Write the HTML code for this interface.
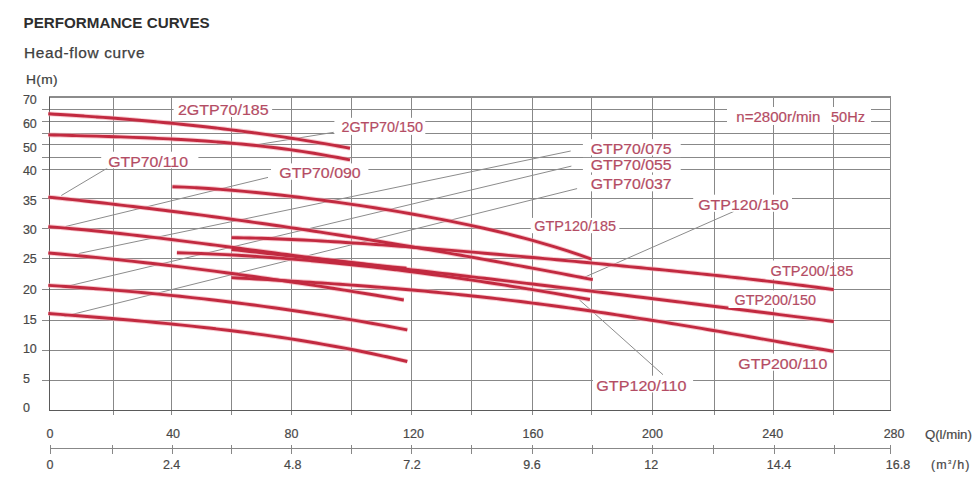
<!DOCTYPE html>
<html><head><meta charset="utf-8"><title>Performance curves</title>
<style>
html,body{margin:0;padding:0;background:#fff;}
body{width:980px;height:500px;overflow:hidden;position:relative;font-family:"Liberation Sans",sans-serif;}
.t1{position:absolute;left:23.5px;top:13.5px;font-size:15.2px;line-height:17px;font-weight:bold;color:#2e2e2e;white-space:nowrap;}
.t2{position:absolute;left:24.3px;top:45px;font-size:14px;line-height:16px;color:#404040;letter-spacing:0.6px;white-space:nowrap;transform:scaleX(1.1);transform-origin:0 0;-webkit-text-stroke:0.25px #404040;}
.t3{position:absolute;left:26.3px;top:72.8px;font-size:12.5px;line-height:14px;color:#404040;letter-spacing:0.3px;white-space:nowrap;transform:scaleX(1.1);transform-origin:0 0;-webkit-text-stroke:0.2px #404040;}
svg{position:absolute;left:0;top:0;}
svg text{font-family:"Liberation Sans",sans-serif;}
</style></head>
<body>
<div class="t1">PERFORMANCE CURVES</div>
<div class="t2">Head-flow curve</div>
<div class="t3">H(m)</div>
<svg width="980" height="500" viewBox="0 0 980 500">
<g shape-rendering="crispEdges">
<line x1="42" y1="109.6" x2="890.5" y2="109.6" stroke="#888888" stroke-width="1"/>
<line x1="42" y1="121.6" x2="890.5" y2="121.6" stroke="#888888" stroke-width="1"/>
<line x1="42" y1="133.4" x2="890.5" y2="133.4" stroke="#888888" stroke-width="1"/>
<line x1="42" y1="144.9" x2="890.5" y2="144.9" stroke="#888888" stroke-width="1"/>
<line x1="42" y1="157.2" x2="890.5" y2="157.2" stroke="#888888" stroke-width="1"/>
<line x1="42" y1="169.1" x2="890.5" y2="169.1" stroke="#888888" stroke-width="1"/>
<line x1="42" y1="198.3" x2="890.5" y2="198.3" stroke="#888888" stroke-width="1"/>
<line x1="42" y1="228.1" x2="890.5" y2="228.1" stroke="#888888" stroke-width="1"/>
<line x1="42" y1="258.8" x2="890.5" y2="258.8" stroke="#888888" stroke-width="1"/>
<line x1="42" y1="289.1" x2="890.5" y2="289.1" stroke="#888888" stroke-width="1"/>
<line x1="42" y1="320.1" x2="890.5" y2="320.1" stroke="#888888" stroke-width="1"/>
<line x1="42" y1="350.3" x2="890.5" y2="350.3" stroke="#888888" stroke-width="1"/>
<line x1="42" y1="380.1" x2="890.5" y2="380.1" stroke="#888888" stroke-width="1"/>
<line x1="49.4" y1="410.1" x2="890.5" y2="410.1" stroke="#888888" stroke-width="1"/>
<line x1="113.2" y1="96.8" x2="113.2" y2="415.1" stroke="#888888" stroke-width="1"/>
<line x1="171.6" y1="96.8" x2="171.6" y2="415.1" stroke="#888888" stroke-width="1"/>
<line x1="231" y1="96.8" x2="231" y2="415.1" stroke="#888888" stroke-width="1"/>
<line x1="291.9" y1="96.8" x2="291.9" y2="415.1" stroke="#888888" stroke-width="1"/>
<line x1="351.4" y1="96.8" x2="351.4" y2="415.1" stroke="#888888" stroke-width="1"/>
<line x1="411.1" y1="96.8" x2="411.1" y2="415.1" stroke="#888888" stroke-width="1"/>
<line x1="471" y1="96.8" x2="471" y2="415.1" stroke="#888888" stroke-width="1"/>
<line x1="532.8" y1="96.8" x2="532.8" y2="415.1" stroke="#888888" stroke-width="1"/>
<line x1="591.8" y1="96.8" x2="591.8" y2="415.1" stroke="#888888" stroke-width="1"/>
<line x1="652.2" y1="96.8" x2="652.2" y2="415.1" stroke="#888888" stroke-width="1"/>
<line x1="714.8" y1="96.8" x2="714.8" y2="415.1" stroke="#888888" stroke-width="1"/>
<line x1="773.2" y1="96.8" x2="773.2" y2="415.1" stroke="#888888" stroke-width="1"/>
<line x1="833.6" y1="96.8" x2="833.6" y2="415.1" stroke="#888888" stroke-width="1"/>
<line x1="49.4" y1="96.8" x2="890.5" y2="96.8" stroke="#8c8c8c" stroke-width="1.6"/>
<line x1="49.4" y1="96.8" x2="49.4" y2="410.1" stroke="#5a5a5a" stroke-width="1.2"/>
<line x1="890.5" y1="96.8" x2="890.5" y2="410.1" stroke="#8c8c8c" stroke-width="1.4"/>
<line x1="49.4" y1="410.1" x2="890.5" y2="410.1" stroke="#5a5a5a" stroke-width="1.2"/>
<line x1="50.4" y1="448.6" x2="890.5" y2="448.6" stroke="#888888" stroke-width="1.2"/>
<line x1="50.7" y1="445" x2="50.7" y2="453.6" stroke="#888888" stroke-width="1"/>
<line x1="112.2" y1="445" x2="112.2" y2="453.6" stroke="#888888" stroke-width="1"/>
<line x1="172.2" y1="445" x2="172.2" y2="453.6" stroke="#888888" stroke-width="1"/>
<line x1="231" y1="445" x2="231" y2="453.6" stroke="#888888" stroke-width="1"/>
<line x1="291" y1="445" x2="291" y2="453.6" stroke="#888888" stroke-width="1"/>
<line x1="351.5" y1="445" x2="351.5" y2="453.6" stroke="#888888" stroke-width="1"/>
<line x1="411.5" y1="445" x2="411.5" y2="453.6" stroke="#888888" stroke-width="1"/>
<line x1="471" y1="445" x2="471" y2="453.6" stroke="#888888" stroke-width="1"/>
<line x1="532.6" y1="445" x2="532.6" y2="453.6" stroke="#888888" stroke-width="1"/>
<line x1="592.2" y1="445" x2="592.2" y2="453.6" stroke="#888888" stroke-width="1"/>
<line x1="652" y1="445" x2="652" y2="453.6" stroke="#888888" stroke-width="1"/>
<line x1="713.8" y1="445" x2="713.8" y2="453.6" stroke="#888888" stroke-width="1"/>
<line x1="774.4" y1="445" x2="774.4" y2="453.6" stroke="#888888" stroke-width="1"/>
<line x1="834" y1="445" x2="834" y2="453.6" stroke="#888888" stroke-width="1"/>
<line x1="890.8" y1="445" x2="890.8" y2="453.6" stroke="#888888" stroke-width="1"/>
</g>
<g>
<line x1="252" y1="145.5" x2="333.7" y2="132.3" stroke="#8c8c8c" stroke-width="1"/>
<line x1="61.3" y1="195.5" x2="107.5" y2="168" stroke="#8c8c8c" stroke-width="1"/>
<line x1="65.5" y1="226.5" x2="268" y2="177.4" stroke="#8c8c8c" stroke-width="1"/>
<line x1="78.8" y1="253.5" x2="570.7" y2="151" stroke="#8c8c8c" stroke-width="1"/>
<line x1="62.5" y1="287.4" x2="571.4" y2="166.1" stroke="#8c8c8c" stroke-width="1"/>
<line x1="64.5" y1="316.3" x2="577.1" y2="188.6" stroke="#8c8c8c" stroke-width="1"/>
<line x1="584.8" y1="277.1" x2="733.9" y2="211.4" stroke="#8c8c8c" stroke-width="1"/>
<line x1="579.4" y1="299.9" x2="663" y2="374.7" stroke="#8c8c8c" stroke-width="1"/>
</g>
<g fill="none" stroke="#f4a4ae" stroke-width="4.8" stroke-opacity="0.6" stroke-linecap="butt">
<path d="M48.3,113.82 C52.32,114.06 56.35,114.29 60.37,114.54 C64.39,114.78 68.41,115.04 72.44,115.29 C76.46,115.55 80.48,115.82 84.5,116.09 C88.53,116.36 92.55,116.64 96.57,116.93 C100.59,117.22 104.62,117.51 108.64,117.82 C112.66,118.12 116.69,118.43 120.71,118.75 C124.73,119.07 128.75,119.4 132.78,119.73 C136.8,120.07 140.82,120.41 144.84,120.77 C148.87,121.12 152.89,121.48 156.91,121.85 C160.93,122.23 164.96,122.61 168.98,123 C173,123.39 177.03,123.79 181.05,124.2 C185.07,124.61 189.09,125.03 193.12,125.46 C197.14,125.89 201.16,126.33 205.18,126.78 C209.21,127.24 213.23,127.7 217.25,128.17 C221.27,128.64 225.3,129.13 229.32,129.62 C233.34,130.12 237.37,130.63 241.39,131.15 C245.41,131.67 249.43,132.2 253.46,132.74 C257.48,133.28 261.5,133.84 265.52,134.4 C269.55,134.97 273.57,135.55 277.59,136.14 C281.61,136.73 285.64,137.34 289.66,137.95 C293.68,138.57 297.71,139.2 301.73,139.85 C305.75,140.49 309.77,141.15 313.8,141.82 C317.82,142.49 321.84,143.18 325.86,143.88 C329.89,144.58 333.91,145.29 337.93,146.02 C341.95,146.74 345.98,147.49 350,148.24"/>
<path d="M48.3,134.85 C52.32,134.96 56.35,135.07 60.37,135.17 C64.39,135.28 68.41,135.39 72.44,135.5 C76.46,135.61 80.48,135.71 84.5,135.83 C88.53,135.94 92.55,136.05 96.57,136.17 C100.59,136.28 104.62,136.4 108.64,136.53 C112.66,136.65 116.69,136.78 120.71,136.92 C124.73,137.05 128.75,137.19 132.78,137.34 C136.8,137.49 140.82,137.64 144.84,137.81 C148.87,137.97 152.89,138.14 156.91,138.33 C160.93,138.51 164.96,138.7 168.98,138.9 C173,139.11 177.03,139.32 181.05,139.55 C185.07,139.78 189.09,140.02 193.12,140.27 C197.14,140.52 201.16,140.79 205.18,141.07 C209.21,141.35 213.23,141.65 217.25,141.96 C221.27,142.28 225.3,142.6 229.32,142.95 C233.34,143.3 237.37,143.66 241.39,144.05 C245.41,144.43 249.43,144.83 253.46,145.26 C257.48,145.68 261.5,146.12 265.52,146.59 C269.55,147.05 273.57,147.54 277.59,148.04 C281.61,148.55 285.64,149.09 289.66,149.64 C293.68,150.2 297.71,150.78 301.73,151.38 C305.75,151.99 309.77,152.62 313.8,153.27 C317.82,153.93 321.84,154.61 325.86,155.33 C329.89,156.04 333.91,156.78 337.93,157.55 C341.95,158.32 345.98,159.11 350,159.94"/>
<path d="M48.3,197.11 C52.33,197.53 56.37,197.94 60.4,198.36 C64.43,198.79 68.47,199.21 72.5,199.65 C76.53,200.08 80.57,200.51 84.6,200.96 C88.63,201.4 92.67,201.84 96.7,202.3 C100.73,202.75 104.77,203.2 108.8,203.67 C112.83,204.13 116.87,204.59 120.9,205.07 C124.93,205.54 128.97,206.01 133,206.49 C137.03,206.98 141.07,207.46 145.1,207.95 C149.13,208.44 153.17,208.94 157.2,209.44 C161.23,209.94 165.27,210.44 169.3,210.95 C173.33,211.46 177.37,211.97 181.4,212.49 C185.43,213.01 189.47,213.54 193.5,214.06 C197.53,214.59 201.57,215.12 205.6,215.66 C209.63,216.2 213.67,216.74 217.7,217.28 C221.73,217.83 225.77,218.38 229.8,218.94 C233.83,219.49 237.87,220.05 241.9,220.61 C245.93,221.18 249.97,221.74 254,222.32 C258.03,222.89 262.07,223.47 266.1,224.05 C270.13,224.63 274.17,225.21 278.2,225.8 C282.23,226.39 286.27,226.99 290.3,227.58 C294.33,228.18 298.37,228.79 302.4,229.39 C306.43,230 310.47,230.61 314.5,231.22 C318.53,231.84 322.57,232.46 326.6,233.08 C330.63,233.7 334.67,234.33 338.7,234.96 C342.73,235.59 346.77,236.23 350.8,236.87 C354.83,237.5 358.87,238.15 362.9,238.79 C366.93,239.44 370.97,240.09 375,240.75 C379.03,241.4 383.07,242.06 387.1,242.72 C391.13,243.38 395.17,244.05 399.2,244.72 C403.23,245.39 407.27,246.07 411.3,246.74 C415.33,247.42 419.37,248.1 423.4,248.79 C427.43,249.47 431.47,250.16 435.5,250.85 C439.53,251.55 443.57,252.24 447.6,252.94 C451.63,253.64 455.67,254.34 459.7,255.05 C463.73,255.76 467.77,256.47 471.8,257.18 C475.83,257.9 479.87,258.62 483.9,259.34 C487.93,260.06 491.97,260.78 496,261.51 C500.03,262.24 504.07,262.97 508.1,263.7 C512.13,264.44 516.17,265.18 520.2,265.92 C524.23,266.66 528.27,267.41 532.3,268.15 C536.33,268.9 540.37,269.65 544.4,270.41 C548.43,271.16 552.47,271.92 556.5,272.68 C560.53,273.44 564.57,274.21 568.6,274.98 C572.63,275.74 576.67,276.51 580.7,277.29 C584.73,278.06 588.77,278.84 592.8,279.62"/>
<path d="M172.4,186.68 C176.39,186.81 180.38,186.97 184.37,187.16 C188.37,187.34 192.36,187.54 196.35,187.77 C200.34,187.99 204.33,188.24 208.32,188.5 C212.31,188.77 216.31,189.05 220.3,189.35 C224.29,189.65 228.28,189.97 232.27,190.31 C236.26,190.64 240.25,190.99 244.25,191.36 C248.24,191.72 252.23,192.1 256.22,192.5 C260.21,192.9 264.2,193.31 268.19,193.73 C272.19,194.15 276.18,194.59 280.17,195.03 C284.16,195.48 288.15,195.94 292.14,196.42 C296.13,196.89 300.13,197.37 304.12,197.87 C308.11,198.37 312.1,198.87 316.09,199.39 C320.08,199.91 324.07,200.44 328.07,200.98 C332.06,201.52 336.05,202.07 340.04,202.63 C344.03,203.19 348.02,203.76 352.01,204.35 C356.01,204.93 360,205.52 363.99,206.13 C367.98,206.74 371.97,207.35 375.96,207.98 C379.95,208.61 383.95,209.25 387.94,209.9 C391.93,210.55 395.92,211.21 399.91,211.89 C403.9,212.56 407.89,213.25 411.89,213.95 C415.88,214.65 419.87,215.37 423.86,216.1 C427.85,216.83 431.84,217.57 435.83,218.33 C439.83,219.09 443.82,219.86 447.81,220.65 C451.8,221.44 455.79,222.25 459.78,223.08 C463.77,223.9 467.77,224.74 471.76,225.6 C475.75,226.47 479.74,227.35 483.73,228.25 C487.72,229.15 491.71,230.08 495.71,231.02 C499.7,231.97 503.69,232.94 507.68,233.93 C511.67,234.92 515.66,235.94 519.65,236.98 C523.65,238.03 527.64,239.1 531.63,240.2 C535.62,241.3 539.61,242.43 543.6,243.59 C547.59,244.74 551.59,245.93 555.58,247.16 C559.57,248.38 563.56,249.64 567.55,250.93 C571.54,252.23 575.53,253.56 579.53,254.92 C583.52,256.29 587.51,257.7 591.5,259.15"/>
<path d="M231.5,237.62 C235.52,237.68 239.53,237.76 243.55,237.84 C247.56,237.93 251.58,238.03 255.59,238.15 C259.61,238.26 263.62,238.39 267.64,238.52 C271.65,238.66 275.67,238.81 279.68,238.97 C283.7,239.13 287.71,239.3 291.73,239.48 C295.75,239.66 299.76,239.85 303.78,240.05 C307.79,240.24 311.81,240.45 315.82,240.67 C319.84,240.88 323.85,241.11 327.87,241.34 C331.88,241.57 335.9,241.82 339.91,242.06 C343.93,242.31 347.94,242.57 351.96,242.83 C355.98,243.09 359.99,243.36 364.01,243.63 C368.02,243.9 372.04,244.18 376.05,244.47 C380.07,244.76 384.08,245.05 388.1,245.34 C392.11,245.64 396.13,245.94 400.14,246.25 C404.16,246.55 408.17,246.86 412.19,247.18 C416.21,247.49 420.22,247.81 424.24,248.13 C428.25,248.45 432.27,248.78 436.28,249.11 C440.3,249.44 444.31,249.77 448.33,250.11 C452.34,250.44 456.36,250.78 460.37,251.12 C464.39,251.46 468.4,251.81 472.42,252.15 C476.44,252.5 480.45,252.85 484.47,253.2 C488.48,253.55 492.5,253.91 496.51,254.26 C500.53,254.62 504.54,254.97 508.56,255.33 C512.57,255.69 516.59,256.05 520.6,256.42 C524.62,256.78 528.63,257.14 532.65,257.51 C536.67,257.87 540.68,258.24 544.7,258.61 C548.71,258.98 552.73,259.35 556.74,259.72 C560.76,260.09 564.77,260.47 568.79,260.84 C572.8,261.22 576.82,261.59 580.83,261.97 C584.85,262.35 588.86,262.73 592.88,263.11 C596.9,263.49 600.91,263.87 604.93,264.26 C608.94,264.64 612.96,265.02 616.97,265.41 C620.99,265.8 625,266.19 629.02,266.58 C633.03,266.97 637.05,267.36 641.06,267.76 C645.08,268.15 649.09,268.55 653.11,268.95 C657.13,269.35 661.14,269.75 665.16,270.15 C669.17,270.55 673.19,270.96 677.2,271.37 C681.22,271.78 685.23,272.19 689.25,272.6 C693.26,273.02 697.28,273.44 701.29,273.86 C705.31,274.28 709.32,274.7 713.34,275.13 C717.36,275.56 721.37,275.99 725.39,276.43 C729.4,276.87 733.42,277.31 737.43,277.75 C741.45,278.2 745.46,278.65 749.48,279.1 C753.49,279.56 757.51,280.02 761.52,280.48 C765.54,280.95 769.55,281.42 773.57,281.9 C777.59,282.37 781.6,282.86 785.62,283.35 C789.63,283.84 793.65,284.34 797.66,284.84 C801.68,285.34 805.69,285.86 809.71,286.38 C813.72,286.9 817.74,287.42 821.75,287.96 C825.77,288.5 829.78,289.04 833.8,289.59"/>
<path d="M48.3,226.7 C52.28,227.01 56.26,227.33 60.24,227.67 C64.22,228 68.19,228.35 72.17,228.7 C76.15,229.06 80.13,229.43 84.11,229.81 C88.09,230.19 92.07,230.58 96.05,230.98 C100.03,231.38 104,231.79 107.98,232.21 C111.96,232.63 115.94,233.06 119.92,233.5 C123.9,233.94 127.88,234.38 131.86,234.84 C135.84,235.29 139.81,235.75 143.79,236.22 C147.77,236.68 151.75,237.16 155.73,237.64 C159.71,238.12 163.69,238.6 167.67,239.09 C171.65,239.58 175.62,240.08 179.6,240.58 C183.58,241.08 187.56,241.58 191.54,242.09 C195.52,242.6 199.5,243.11 203.48,243.62 C207.46,244.14 211.43,244.66 215.41,245.17 C219.39,245.69 223.37,246.21 227.35,246.74 C231.33,247.26 235.31,247.78 239.29,248.3 C243.27,248.83 247.24,249.35 251.22,249.87 C255.2,250.4 259.18,250.92 263.16,251.44 C267.14,251.96 271.12,252.48 275.1,253 C279.08,253.52 283.05,254.04 287.03,254.55 C291.01,255.06 294.99,255.57 298.97,256.08 C302.95,256.59 306.93,257.09 310.91,257.59 C314.89,258.09 318.86,258.58 322.84,259.07 C326.82,259.56 330.8,260.04 334.78,260.52 C338.76,261 342.74,261.47 346.72,261.93 C350.7,262.4 354.67,262.86 358.65,263.31 C362.63,263.76 366.61,264.2 370.59,264.63 C374.57,265.07 378.55,265.49 382.53,265.91 C386.51,266.33 390.48,266.73 394.46,267.13 C398.44,267.53 402.42,267.92 406.4,268.29"/>
<path d="M176.9,252.77 C180.95,252.88 185,253 189.05,253.13 C193.1,253.27 197.15,253.41 201.19,253.57 C205.24,253.73 209.29,253.9 213.34,254.08 C217.39,254.27 221.44,254.46 225.49,254.67 C229.54,254.87 233.59,255.09 237.64,255.32 C241.68,255.55 245.73,255.79 249.78,256.05 C253.83,256.3 257.88,256.57 261.93,256.84 C265.98,257.12 270.03,257.4 274.08,257.7 C278.13,258 282.17,258.31 286.22,258.63 C290.27,258.95 294.32,259.28 298.37,259.62 C302.42,259.96 306.47,260.31 310.52,260.68 C314.57,261.04 318.62,261.41 322.66,261.79 C326.71,262.18 330.76,262.57 334.81,262.97 C338.86,263.37 342.91,263.79 346.96,264.21 C351.01,264.63 355.06,265.06 359.11,265.51 C363.15,265.95 367.2,266.4 371.25,266.86 C375.3,267.32 379.35,267.79 383.4,268.27 C387.45,268.75 391.5,269.24 395.55,269.73 C399.6,270.23 403.65,270.74 407.69,271.25 C411.74,271.77 415.79,272.29 419.84,272.82 C423.89,273.35 427.94,273.89 431.99,274.44 C436.04,274.99 440.09,275.55 444.14,276.11 C448.18,276.68 452.23,277.25 456.28,277.83 C460.33,278.41 464.38,279 468.43,279.59 C472.48,280.19 476.53,280.79 480.58,281.41 C484.63,282.02 488.67,282.63 492.72,283.26 C496.77,283.89 500.82,284.52 504.87,285.16 C508.92,285.8 512.97,286.45 517.02,287.1 C521.07,287.75 525.12,288.41 529.16,289.08 C533.21,289.75 537.26,290.42 541.31,291.1 C545.36,291.78 549.41,292.47 553.46,293.16 C557.51,293.85 561.56,294.55 565.61,295.25 C569.65,295.96 573.7,296.67 577.75,297.38 C581.8,298.1 585.85,298.82 589.9,299.55"/>
<path d="M231.5,249.51 C235.52,249.94 239.53,250.38 243.55,250.82 C247.56,251.26 251.58,251.7 255.59,252.14 C259.61,252.59 263.62,253.03 267.64,253.47 C271.65,253.91 275.67,254.36 279.68,254.8 C283.7,255.25 287.71,255.7 291.73,256.14 C295.75,256.59 299.76,257.04 303.78,257.49 C307.79,257.94 311.81,258.39 315.82,258.84 C319.84,259.29 323.85,259.74 327.87,260.19 C331.88,260.65 335.9,261.1 339.91,261.56 C343.93,262.01 347.94,262.47 351.96,262.92 C355.98,263.38 359.99,263.84 364.01,264.3 C368.02,264.75 372.04,265.21 376.05,265.67 C380.07,266.13 384.08,266.59 388.1,267.06 C392.11,267.52 396.13,267.98 400.14,268.44 C404.16,268.91 408.17,269.37 412.19,269.84 C416.21,270.3 420.22,270.77 424.24,271.24 C428.25,271.7 432.27,272.17 436.28,272.64 C440.3,273.11 444.31,273.58 448.33,274.05 C452.34,274.52 456.36,274.99 460.37,275.46 C464.39,275.94 468.4,276.41 472.42,276.88 C476.44,277.36 480.45,277.83 484.47,278.31 C488.48,278.78 492.5,279.26 496.51,279.74 C500.53,280.21 504.54,280.69 508.56,281.17 C512.57,281.65 516.59,282.13 520.6,282.61 C524.62,283.09 528.63,283.57 532.65,284.05 C536.67,284.53 540.68,285.01 544.7,285.5 C548.71,285.98 552.73,286.46 556.74,286.95 C560.76,287.43 564.77,287.92 568.79,288.41 C572.8,288.89 576.82,289.38 580.83,289.87 C584.85,290.35 588.86,290.84 592.88,291.33 C596.9,291.82 600.91,292.31 604.93,292.8 C608.94,293.29 612.96,293.78 616.97,294.27 C620.99,294.77 625,295.26 629.02,295.75 C633.03,296.25 637.05,296.74 641.06,297.23 C645.08,297.73 649.09,298.23 653.11,298.72 C657.13,299.22 661.14,299.71 665.16,300.21 C669.17,300.71 673.19,301.21 677.2,301.71 C681.22,302.2 685.23,302.7 689.25,303.2 C693.26,303.7 697.28,304.2 701.29,304.71 C705.31,305.21 709.32,305.71 713.34,306.21 C717.36,306.71 721.37,307.22 725.39,307.72 C729.4,308.23 733.42,308.73 737.43,309.24 C741.45,309.74 745.46,310.25 749.48,310.75 C753.49,311.26 757.51,311.77 761.52,312.27 C765.54,312.78 769.55,313.29 773.57,313.8 C777.59,314.31 781.6,314.82 785.62,315.33 C789.63,315.84 793.65,316.35 797.66,316.86 C801.68,317.37 805.69,317.88 809.71,318.39 C813.72,318.9 817.74,319.42 821.75,319.93 C825.77,320.44 829.78,320.96 833.8,321.47"/>
<path d="M48.3,252.94 C52.25,253.28 56.2,253.63 60.15,253.99 C64.1,254.34 68.05,254.71 72,255.08 C75.95,255.45 79.9,255.82 83.85,256.2 C87.8,256.59 91.75,256.98 95.7,257.37 C99.65,257.77 103.6,258.17 107.55,258.58 C111.5,258.99 115.45,259.41 119.4,259.83 C123.35,260.25 127.3,260.68 131.25,261.11 C135.2,261.55 139.15,261.99 143.1,262.44 C147.05,262.88 151,263.34 154.95,263.8 C158.9,264.26 162.85,264.72 166.8,265.2 C170.75,265.67 174.7,266.14 178.65,266.63 C182.6,267.11 186.55,267.6 190.5,268.1 C194.45,268.59 198.4,269.09 202.35,269.6 C206.3,270.11 210.25,270.62 214.2,271.14 C218.15,271.66 222.1,272.18 226.05,272.71 C230,273.24 233.95,273.78 237.9,274.32 C241.85,274.86 245.8,275.4 249.75,275.95 C253.7,276.51 257.65,277.06 261.6,277.62 C265.55,278.19 269.5,278.75 273.45,279.32 C277.4,279.9 281.35,280.47 285.3,281.06 C289.25,281.64 293.2,282.23 297.15,282.82 C301.1,283.41 305.05,284.01 309,284.61 C312.95,285.21 316.9,285.82 320.85,286.43 C324.8,287.04 328.75,287.66 332.7,288.28 C336.65,288.9 340.6,289.53 344.55,290.16 C348.5,290.79 352.45,291.42 356.4,292.06 C360.35,292.7 364.3,293.35 368.25,294 C372.2,294.64 376.15,295.3 380.1,295.95 C384.05,296.61 388,297.27 391.95,297.94 C395.9,298.6 399.85,299.27 403.8,299.95"/>
<path d="M231.5,277.63 C235.52,277.85 239.53,278.07 243.55,278.29 C247.56,278.51 251.58,278.74 255.59,278.96 C259.61,279.19 263.62,279.42 267.64,279.65 C271.65,279.88 275.67,280.12 279.68,280.36 C283.7,280.59 287.71,280.84 291.73,281.08 C295.75,281.33 299.76,281.58 303.78,281.83 C307.79,282.09 311.81,282.34 315.82,282.61 C319.84,282.87 323.85,283.14 327.87,283.41 C331.88,283.69 335.9,283.96 339.91,284.25 C343.93,284.53 347.94,284.82 351.96,285.12 C355.98,285.41 359.99,285.71 364.01,286.02 C368.02,286.33 372.04,286.64 376.05,286.96 C380.07,287.28 384.08,287.61 388.1,287.94 C392.11,288.27 396.13,288.61 400.14,288.96 C404.16,289.31 408.17,289.66 412.19,290.02 C416.21,290.38 420.22,290.75 424.24,291.12 C428.25,291.5 432.27,291.88 436.28,292.27 C440.3,292.66 444.31,293.06 448.33,293.46 C452.34,293.86 456.36,294.28 460.37,294.7 C464.39,295.12 468.4,295.54 472.42,295.98 C476.44,296.41 480.45,296.85 484.47,297.3 C488.48,297.75 492.5,298.21 496.51,298.68 C500.53,299.14 504.54,299.62 508.56,300.1 C512.57,300.58 516.59,301.07 520.6,301.56 C524.62,302.06 528.63,302.56 532.65,303.07 C536.67,303.58 540.68,304.1 544.7,304.63 C548.71,305.15 552.73,305.69 556.74,306.23 C560.76,306.77 564.77,307.32 568.79,307.87 C572.8,308.43 576.82,308.99 580.83,309.56 C584.85,310.13 588.86,310.7 592.88,311.29 C596.9,311.87 600.91,312.46 604.93,313.05 C608.94,313.65 612.96,314.25 616.97,314.86 C620.99,315.47 625,316.09 629.02,316.71 C633.03,317.33 637.05,317.95 641.06,318.59 C645.08,319.22 649.09,319.86 653.11,320.5 C657.13,321.14 661.14,321.79 665.16,322.44 C669.17,323.09 673.19,323.75 677.2,324.41 C681.22,325.08 685.23,325.74 689.25,326.41 C693.26,327.09 697.28,327.76 701.29,328.44 C705.31,329.12 709.32,329.8 713.34,330.48 C717.36,331.17 721.37,331.85 725.39,332.55 C729.4,333.24 733.42,333.93 737.43,334.62 C741.45,335.32 745.46,336.01 749.48,336.71 C753.49,337.41 757.51,338.11 761.52,338.81 C765.54,339.51 769.55,340.21 773.57,340.91 C777.59,341.61 781.6,342.32 785.62,343.02 C789.63,343.72 793.65,344.42 797.66,345.12 C801.68,345.82 805.69,346.52 809.71,347.21 C813.72,347.91 817.74,348.6 821.75,349.29 C825.77,349.99 829.78,350.68 833.8,351.36"/>
<path d="M48.3,285.36 C52.29,285.61 56.28,285.86 60.27,286.13 C64.26,286.39 68.24,286.66 72.23,286.94 C76.22,287.22 80.21,287.5 84.2,287.79 C88.19,288.09 92.18,288.39 96.17,288.69 C100.16,289 104.14,289.32 108.13,289.64 C112.12,289.96 116.11,290.29 120.1,290.63 C124.09,290.97 128.08,291.31 132.07,291.67 C136.06,292.02 140.04,292.38 144.03,292.75 C148.02,293.12 152.01,293.5 156,293.89 C159.99,294.27 163.98,294.67 167.97,295.07 C171.96,295.47 175.94,295.88 179.93,296.3 C183.92,296.72 187.91,297.14 191.9,297.58 C195.89,298.01 199.88,298.46 203.87,298.91 C207.86,299.36 211.84,299.82 215.83,300.29 C219.82,300.76 223.81,301.24 227.8,301.73 C231.79,302.22 235.78,302.71 239.77,303.22 C243.76,303.72 247.74,304.24 251.73,304.76 C255.72,305.28 259.71,305.81 263.7,306.35 C267.69,306.89 271.68,307.45 275.67,308 C279.66,308.56 283.64,309.13 287.63,309.71 C291.62,310.29 295.61,310.88 299.6,311.47 C303.59,312.07 307.58,312.68 311.57,313.29 C315.56,313.91 319.54,314.53 323.53,315.17 C327.52,315.8 331.51,316.45 335.5,317.1 C339.49,317.76 343.48,318.42 347.47,319.1 C351.46,319.77 355.44,320.45 359.43,321.15 C363.42,321.84 367.41,322.55 371.4,323.26 C375.39,323.98 379.38,324.7 383.37,325.44 C387.36,326.17 391.34,326.92 395.33,327.67 C399.32,328.43 403.31,329.2 407.3,329.97"/>
<path d="M48.3,313.48 C52.29,313.78 56.28,314.09 60.27,314.4 C64.26,314.7 68.24,315.01 72.23,315.33 C76.22,315.64 80.21,315.96 84.2,316.27 C88.19,316.59 92.18,316.92 96.17,317.24 C100.16,317.57 104.14,317.9 108.13,318.23 C112.12,318.57 116.11,318.9 120.1,319.25 C124.09,319.59 128.08,319.94 132.07,320.3 C136.06,320.65 140.04,321.01 144.03,321.38 C148.02,321.75 152.01,322.12 156,322.5 C159.99,322.88 163.98,323.27 167.97,323.66 C171.96,324.06 175.94,324.46 179.93,324.87 C183.92,325.28 187.91,325.7 191.9,326.13 C195.89,326.56 199.88,326.99 203.87,327.44 C207.86,327.89 211.84,328.34 215.83,328.81 C219.82,329.28 223.81,329.75 227.8,330.24 C231.79,330.73 235.78,331.22 239.77,331.73 C243.76,332.24 247.74,332.76 251.73,333.29 C255.72,333.83 259.71,334.37 263.7,334.93 C267.69,335.48 271.68,336.05 275.67,336.64 C279.66,337.22 283.64,337.82 287.63,338.43 C291.62,339.04 295.61,339.66 299.6,340.3 C303.59,340.94 307.58,341.59 311.57,342.26 C315.56,342.93 319.54,343.61 323.53,344.31 C327.52,345.01 331.51,345.72 335.5,346.45 C339.49,347.18 343.48,347.93 347.47,348.69 C351.46,349.46 355.44,350.24 359.43,351.04 C363.42,351.84 367.41,352.65 371.4,353.49 C375.39,354.32 379.38,355.18 383.37,356.05 C387.36,356.92 391.34,357.81 395.33,358.72 C399.32,359.63 403.31,360.56 407.3,361.51"/>
</g>
<g fill="none" stroke="#c22a40" stroke-width="2.9" stroke-linecap="butt" stroke-linejoin="round">
<path d="M48.3,113.82 C52.32,114.06 56.35,114.29 60.37,114.54 C64.39,114.78 68.41,115.04 72.44,115.29 C76.46,115.55 80.48,115.82 84.5,116.09 C88.53,116.36 92.55,116.64 96.57,116.93 C100.59,117.22 104.62,117.51 108.64,117.82 C112.66,118.12 116.69,118.43 120.71,118.75 C124.73,119.07 128.75,119.4 132.78,119.73 C136.8,120.07 140.82,120.41 144.84,120.77 C148.87,121.12 152.89,121.48 156.91,121.85 C160.93,122.23 164.96,122.61 168.98,123 C173,123.39 177.03,123.79 181.05,124.2 C185.07,124.61 189.09,125.03 193.12,125.46 C197.14,125.89 201.16,126.33 205.18,126.78 C209.21,127.24 213.23,127.7 217.25,128.17 C221.27,128.64 225.3,129.13 229.32,129.62 C233.34,130.12 237.37,130.63 241.39,131.15 C245.41,131.67 249.43,132.2 253.46,132.74 C257.48,133.28 261.5,133.84 265.52,134.4 C269.55,134.97 273.57,135.55 277.59,136.14 C281.61,136.73 285.64,137.34 289.66,137.95 C293.68,138.57 297.71,139.2 301.73,139.85 C305.75,140.49 309.77,141.15 313.8,141.82 C317.82,142.49 321.84,143.18 325.86,143.88 C329.89,144.58 333.91,145.29 337.93,146.02 C341.95,146.74 345.98,147.49 350,148.24"/>
<path d="M48.3,134.85 C52.32,134.96 56.35,135.07 60.37,135.17 C64.39,135.28 68.41,135.39 72.44,135.5 C76.46,135.61 80.48,135.71 84.5,135.83 C88.53,135.94 92.55,136.05 96.57,136.17 C100.59,136.28 104.62,136.4 108.64,136.53 C112.66,136.65 116.69,136.78 120.71,136.92 C124.73,137.05 128.75,137.19 132.78,137.34 C136.8,137.49 140.82,137.64 144.84,137.81 C148.87,137.97 152.89,138.14 156.91,138.33 C160.93,138.51 164.96,138.7 168.98,138.9 C173,139.11 177.03,139.32 181.05,139.55 C185.07,139.78 189.09,140.02 193.12,140.27 C197.14,140.52 201.16,140.79 205.18,141.07 C209.21,141.35 213.23,141.65 217.25,141.96 C221.27,142.28 225.3,142.6 229.32,142.95 C233.34,143.3 237.37,143.66 241.39,144.05 C245.41,144.43 249.43,144.83 253.46,145.26 C257.48,145.68 261.5,146.12 265.52,146.59 C269.55,147.05 273.57,147.54 277.59,148.04 C281.61,148.55 285.64,149.09 289.66,149.64 C293.68,150.2 297.71,150.78 301.73,151.38 C305.75,151.99 309.77,152.62 313.8,153.27 C317.82,153.93 321.84,154.61 325.86,155.33 C329.89,156.04 333.91,156.78 337.93,157.55 C341.95,158.32 345.98,159.11 350,159.94"/>
<path d="M48.3,197.11 C52.33,197.53 56.37,197.94 60.4,198.36 C64.43,198.79 68.47,199.21 72.5,199.65 C76.53,200.08 80.57,200.51 84.6,200.96 C88.63,201.4 92.67,201.84 96.7,202.3 C100.73,202.75 104.77,203.2 108.8,203.67 C112.83,204.13 116.87,204.59 120.9,205.07 C124.93,205.54 128.97,206.01 133,206.49 C137.03,206.98 141.07,207.46 145.1,207.95 C149.13,208.44 153.17,208.94 157.2,209.44 C161.23,209.94 165.27,210.44 169.3,210.95 C173.33,211.46 177.37,211.97 181.4,212.49 C185.43,213.01 189.47,213.54 193.5,214.06 C197.53,214.59 201.57,215.12 205.6,215.66 C209.63,216.2 213.67,216.74 217.7,217.28 C221.73,217.83 225.77,218.38 229.8,218.94 C233.83,219.49 237.87,220.05 241.9,220.61 C245.93,221.18 249.97,221.74 254,222.32 C258.03,222.89 262.07,223.47 266.1,224.05 C270.13,224.63 274.17,225.21 278.2,225.8 C282.23,226.39 286.27,226.99 290.3,227.58 C294.33,228.18 298.37,228.79 302.4,229.39 C306.43,230 310.47,230.61 314.5,231.22 C318.53,231.84 322.57,232.46 326.6,233.08 C330.63,233.7 334.67,234.33 338.7,234.96 C342.73,235.59 346.77,236.23 350.8,236.87 C354.83,237.5 358.87,238.15 362.9,238.79 C366.93,239.44 370.97,240.09 375,240.75 C379.03,241.4 383.07,242.06 387.1,242.72 C391.13,243.38 395.17,244.05 399.2,244.72 C403.23,245.39 407.27,246.07 411.3,246.74 C415.33,247.42 419.37,248.1 423.4,248.79 C427.43,249.47 431.47,250.16 435.5,250.85 C439.53,251.55 443.57,252.24 447.6,252.94 C451.63,253.64 455.67,254.34 459.7,255.05 C463.73,255.76 467.77,256.47 471.8,257.18 C475.83,257.9 479.87,258.62 483.9,259.34 C487.93,260.06 491.97,260.78 496,261.51 C500.03,262.24 504.07,262.97 508.1,263.7 C512.13,264.44 516.17,265.18 520.2,265.92 C524.23,266.66 528.27,267.41 532.3,268.15 C536.33,268.9 540.37,269.65 544.4,270.41 C548.43,271.16 552.47,271.92 556.5,272.68 C560.53,273.44 564.57,274.21 568.6,274.98 C572.63,275.74 576.67,276.51 580.7,277.29 C584.73,278.06 588.77,278.84 592.8,279.62"/>
<path d="M172.4,186.68 C176.39,186.81 180.38,186.97 184.37,187.16 C188.37,187.34 192.36,187.54 196.35,187.77 C200.34,187.99 204.33,188.24 208.32,188.5 C212.31,188.77 216.31,189.05 220.3,189.35 C224.29,189.65 228.28,189.97 232.27,190.31 C236.26,190.64 240.25,190.99 244.25,191.36 C248.24,191.72 252.23,192.1 256.22,192.5 C260.21,192.9 264.2,193.31 268.19,193.73 C272.19,194.15 276.18,194.59 280.17,195.03 C284.16,195.48 288.15,195.94 292.14,196.42 C296.13,196.89 300.13,197.37 304.12,197.87 C308.11,198.37 312.1,198.87 316.09,199.39 C320.08,199.91 324.07,200.44 328.07,200.98 C332.06,201.52 336.05,202.07 340.04,202.63 C344.03,203.19 348.02,203.76 352.01,204.35 C356.01,204.93 360,205.52 363.99,206.13 C367.98,206.74 371.97,207.35 375.96,207.98 C379.95,208.61 383.95,209.25 387.94,209.9 C391.93,210.55 395.92,211.21 399.91,211.89 C403.9,212.56 407.89,213.25 411.89,213.95 C415.88,214.65 419.87,215.37 423.86,216.1 C427.85,216.83 431.84,217.57 435.83,218.33 C439.83,219.09 443.82,219.86 447.81,220.65 C451.8,221.44 455.79,222.25 459.78,223.08 C463.77,223.9 467.77,224.74 471.76,225.6 C475.75,226.47 479.74,227.35 483.73,228.25 C487.72,229.15 491.71,230.08 495.71,231.02 C499.7,231.97 503.69,232.94 507.68,233.93 C511.67,234.92 515.66,235.94 519.65,236.98 C523.65,238.03 527.64,239.1 531.63,240.2 C535.62,241.3 539.61,242.43 543.6,243.59 C547.59,244.74 551.59,245.93 555.58,247.16 C559.57,248.38 563.56,249.64 567.55,250.93 C571.54,252.23 575.53,253.56 579.53,254.92 C583.52,256.29 587.51,257.7 591.5,259.15"/>
<path d="M231.5,237.62 C235.52,237.68 239.53,237.76 243.55,237.84 C247.56,237.93 251.58,238.03 255.59,238.15 C259.61,238.26 263.62,238.39 267.64,238.52 C271.65,238.66 275.67,238.81 279.68,238.97 C283.7,239.13 287.71,239.3 291.73,239.48 C295.75,239.66 299.76,239.85 303.78,240.05 C307.79,240.24 311.81,240.45 315.82,240.67 C319.84,240.88 323.85,241.11 327.87,241.34 C331.88,241.57 335.9,241.82 339.91,242.06 C343.93,242.31 347.94,242.57 351.96,242.83 C355.98,243.09 359.99,243.36 364.01,243.63 C368.02,243.9 372.04,244.18 376.05,244.47 C380.07,244.76 384.08,245.05 388.1,245.34 C392.11,245.64 396.13,245.94 400.14,246.25 C404.16,246.55 408.17,246.86 412.19,247.18 C416.21,247.49 420.22,247.81 424.24,248.13 C428.25,248.45 432.27,248.78 436.28,249.11 C440.3,249.44 444.31,249.77 448.33,250.11 C452.34,250.44 456.36,250.78 460.37,251.12 C464.39,251.46 468.4,251.81 472.42,252.15 C476.44,252.5 480.45,252.85 484.47,253.2 C488.48,253.55 492.5,253.91 496.51,254.26 C500.53,254.62 504.54,254.97 508.56,255.33 C512.57,255.69 516.59,256.05 520.6,256.42 C524.62,256.78 528.63,257.14 532.65,257.51 C536.67,257.87 540.68,258.24 544.7,258.61 C548.71,258.98 552.73,259.35 556.74,259.72 C560.76,260.09 564.77,260.47 568.79,260.84 C572.8,261.22 576.82,261.59 580.83,261.97 C584.85,262.35 588.86,262.73 592.88,263.11 C596.9,263.49 600.91,263.87 604.93,264.26 C608.94,264.64 612.96,265.02 616.97,265.41 C620.99,265.8 625,266.19 629.02,266.58 C633.03,266.97 637.05,267.36 641.06,267.76 C645.08,268.15 649.09,268.55 653.11,268.95 C657.13,269.35 661.14,269.75 665.16,270.15 C669.17,270.55 673.19,270.96 677.2,271.37 C681.22,271.78 685.23,272.19 689.25,272.6 C693.26,273.02 697.28,273.44 701.29,273.86 C705.31,274.28 709.32,274.7 713.34,275.13 C717.36,275.56 721.37,275.99 725.39,276.43 C729.4,276.87 733.42,277.31 737.43,277.75 C741.45,278.2 745.46,278.65 749.48,279.1 C753.49,279.56 757.51,280.02 761.52,280.48 C765.54,280.95 769.55,281.42 773.57,281.9 C777.59,282.37 781.6,282.86 785.62,283.35 C789.63,283.84 793.65,284.34 797.66,284.84 C801.68,285.34 805.69,285.86 809.71,286.38 C813.72,286.9 817.74,287.42 821.75,287.96 C825.77,288.5 829.78,289.04 833.8,289.59"/>
<path d="M48.3,226.7 C52.28,227.01 56.26,227.33 60.24,227.67 C64.22,228 68.19,228.35 72.17,228.7 C76.15,229.06 80.13,229.43 84.11,229.81 C88.09,230.19 92.07,230.58 96.05,230.98 C100.03,231.38 104,231.79 107.98,232.21 C111.96,232.63 115.94,233.06 119.92,233.5 C123.9,233.94 127.88,234.38 131.86,234.84 C135.84,235.29 139.81,235.75 143.79,236.22 C147.77,236.68 151.75,237.16 155.73,237.64 C159.71,238.12 163.69,238.6 167.67,239.09 C171.65,239.58 175.62,240.08 179.6,240.58 C183.58,241.08 187.56,241.58 191.54,242.09 C195.52,242.6 199.5,243.11 203.48,243.62 C207.46,244.14 211.43,244.66 215.41,245.17 C219.39,245.69 223.37,246.21 227.35,246.74 C231.33,247.26 235.31,247.78 239.29,248.3 C243.27,248.83 247.24,249.35 251.22,249.87 C255.2,250.4 259.18,250.92 263.16,251.44 C267.14,251.96 271.12,252.48 275.1,253 C279.08,253.52 283.05,254.04 287.03,254.55 C291.01,255.06 294.99,255.57 298.97,256.08 C302.95,256.59 306.93,257.09 310.91,257.59 C314.89,258.09 318.86,258.58 322.84,259.07 C326.82,259.56 330.8,260.04 334.78,260.52 C338.76,261 342.74,261.47 346.72,261.93 C350.7,262.4 354.67,262.86 358.65,263.31 C362.63,263.76 366.61,264.2 370.59,264.63 C374.57,265.07 378.55,265.49 382.53,265.91 C386.51,266.33 390.48,266.73 394.46,267.13 C398.44,267.53 402.42,267.92 406.4,268.29"/>
<path d="M176.9,252.77 C180.95,252.88 185,253 189.05,253.13 C193.1,253.27 197.15,253.41 201.19,253.57 C205.24,253.73 209.29,253.9 213.34,254.08 C217.39,254.27 221.44,254.46 225.49,254.67 C229.54,254.87 233.59,255.09 237.64,255.32 C241.68,255.55 245.73,255.79 249.78,256.05 C253.83,256.3 257.88,256.57 261.93,256.84 C265.98,257.12 270.03,257.4 274.08,257.7 C278.13,258 282.17,258.31 286.22,258.63 C290.27,258.95 294.32,259.28 298.37,259.62 C302.42,259.96 306.47,260.31 310.52,260.68 C314.57,261.04 318.62,261.41 322.66,261.79 C326.71,262.18 330.76,262.57 334.81,262.97 C338.86,263.37 342.91,263.79 346.96,264.21 C351.01,264.63 355.06,265.06 359.11,265.51 C363.15,265.95 367.2,266.4 371.25,266.86 C375.3,267.32 379.35,267.79 383.4,268.27 C387.45,268.75 391.5,269.24 395.55,269.73 C399.6,270.23 403.65,270.74 407.69,271.25 C411.74,271.77 415.79,272.29 419.84,272.82 C423.89,273.35 427.94,273.89 431.99,274.44 C436.04,274.99 440.09,275.55 444.14,276.11 C448.18,276.68 452.23,277.25 456.28,277.83 C460.33,278.41 464.38,279 468.43,279.59 C472.48,280.19 476.53,280.79 480.58,281.41 C484.63,282.02 488.67,282.63 492.72,283.26 C496.77,283.89 500.82,284.52 504.87,285.16 C508.92,285.8 512.97,286.45 517.02,287.1 C521.07,287.75 525.12,288.41 529.16,289.08 C533.21,289.75 537.26,290.42 541.31,291.1 C545.36,291.78 549.41,292.47 553.46,293.16 C557.51,293.85 561.56,294.55 565.61,295.25 C569.65,295.96 573.7,296.67 577.75,297.38 C581.8,298.1 585.85,298.82 589.9,299.55"/>
<path d="M231.5,249.51 C235.52,249.94 239.53,250.38 243.55,250.82 C247.56,251.26 251.58,251.7 255.59,252.14 C259.61,252.59 263.62,253.03 267.64,253.47 C271.65,253.91 275.67,254.36 279.68,254.8 C283.7,255.25 287.71,255.7 291.73,256.14 C295.75,256.59 299.76,257.04 303.78,257.49 C307.79,257.94 311.81,258.39 315.82,258.84 C319.84,259.29 323.85,259.74 327.87,260.19 C331.88,260.65 335.9,261.1 339.91,261.56 C343.93,262.01 347.94,262.47 351.96,262.92 C355.98,263.38 359.99,263.84 364.01,264.3 C368.02,264.75 372.04,265.21 376.05,265.67 C380.07,266.13 384.08,266.59 388.1,267.06 C392.11,267.52 396.13,267.98 400.14,268.44 C404.16,268.91 408.17,269.37 412.19,269.84 C416.21,270.3 420.22,270.77 424.24,271.24 C428.25,271.7 432.27,272.17 436.28,272.64 C440.3,273.11 444.31,273.58 448.33,274.05 C452.34,274.52 456.36,274.99 460.37,275.46 C464.39,275.94 468.4,276.41 472.42,276.88 C476.44,277.36 480.45,277.83 484.47,278.31 C488.48,278.78 492.5,279.26 496.51,279.74 C500.53,280.21 504.54,280.69 508.56,281.17 C512.57,281.65 516.59,282.13 520.6,282.61 C524.62,283.09 528.63,283.57 532.65,284.05 C536.67,284.53 540.68,285.01 544.7,285.5 C548.71,285.98 552.73,286.46 556.74,286.95 C560.76,287.43 564.77,287.92 568.79,288.41 C572.8,288.89 576.82,289.38 580.83,289.87 C584.85,290.35 588.86,290.84 592.88,291.33 C596.9,291.82 600.91,292.31 604.93,292.8 C608.94,293.29 612.96,293.78 616.97,294.27 C620.99,294.77 625,295.26 629.02,295.75 C633.03,296.25 637.05,296.74 641.06,297.23 C645.08,297.73 649.09,298.23 653.11,298.72 C657.13,299.22 661.14,299.71 665.16,300.21 C669.17,300.71 673.19,301.21 677.2,301.71 C681.22,302.2 685.23,302.7 689.25,303.2 C693.26,303.7 697.28,304.2 701.29,304.71 C705.31,305.21 709.32,305.71 713.34,306.21 C717.36,306.71 721.37,307.22 725.39,307.72 C729.4,308.23 733.42,308.73 737.43,309.24 C741.45,309.74 745.46,310.25 749.48,310.75 C753.49,311.26 757.51,311.77 761.52,312.27 C765.54,312.78 769.55,313.29 773.57,313.8 C777.59,314.31 781.6,314.82 785.62,315.33 C789.63,315.84 793.65,316.35 797.66,316.86 C801.68,317.37 805.69,317.88 809.71,318.39 C813.72,318.9 817.74,319.42 821.75,319.93 C825.77,320.44 829.78,320.96 833.8,321.47"/>
<path d="M48.3,252.94 C52.25,253.28 56.2,253.63 60.15,253.99 C64.1,254.34 68.05,254.71 72,255.08 C75.95,255.45 79.9,255.82 83.85,256.2 C87.8,256.59 91.75,256.98 95.7,257.37 C99.65,257.77 103.6,258.17 107.55,258.58 C111.5,258.99 115.45,259.41 119.4,259.83 C123.35,260.25 127.3,260.68 131.25,261.11 C135.2,261.55 139.15,261.99 143.1,262.44 C147.05,262.88 151,263.34 154.95,263.8 C158.9,264.26 162.85,264.72 166.8,265.2 C170.75,265.67 174.7,266.14 178.65,266.63 C182.6,267.11 186.55,267.6 190.5,268.1 C194.45,268.59 198.4,269.09 202.35,269.6 C206.3,270.11 210.25,270.62 214.2,271.14 C218.15,271.66 222.1,272.18 226.05,272.71 C230,273.24 233.95,273.78 237.9,274.32 C241.85,274.86 245.8,275.4 249.75,275.95 C253.7,276.51 257.65,277.06 261.6,277.62 C265.55,278.19 269.5,278.75 273.45,279.32 C277.4,279.9 281.35,280.47 285.3,281.06 C289.25,281.64 293.2,282.23 297.15,282.82 C301.1,283.41 305.05,284.01 309,284.61 C312.95,285.21 316.9,285.82 320.85,286.43 C324.8,287.04 328.75,287.66 332.7,288.28 C336.65,288.9 340.6,289.53 344.55,290.16 C348.5,290.79 352.45,291.42 356.4,292.06 C360.35,292.7 364.3,293.35 368.25,294 C372.2,294.64 376.15,295.3 380.1,295.95 C384.05,296.61 388,297.27 391.95,297.94 C395.9,298.6 399.85,299.27 403.8,299.95"/>
<path d="M231.5,277.63 C235.52,277.85 239.53,278.07 243.55,278.29 C247.56,278.51 251.58,278.74 255.59,278.96 C259.61,279.19 263.62,279.42 267.64,279.65 C271.65,279.88 275.67,280.12 279.68,280.36 C283.7,280.59 287.71,280.84 291.73,281.08 C295.75,281.33 299.76,281.58 303.78,281.83 C307.79,282.09 311.81,282.34 315.82,282.61 C319.84,282.87 323.85,283.14 327.87,283.41 C331.88,283.69 335.9,283.96 339.91,284.25 C343.93,284.53 347.94,284.82 351.96,285.12 C355.98,285.41 359.99,285.71 364.01,286.02 C368.02,286.33 372.04,286.64 376.05,286.96 C380.07,287.28 384.08,287.61 388.1,287.94 C392.11,288.27 396.13,288.61 400.14,288.96 C404.16,289.31 408.17,289.66 412.19,290.02 C416.21,290.38 420.22,290.75 424.24,291.12 C428.25,291.5 432.27,291.88 436.28,292.27 C440.3,292.66 444.31,293.06 448.33,293.46 C452.34,293.86 456.36,294.28 460.37,294.7 C464.39,295.12 468.4,295.54 472.42,295.98 C476.44,296.41 480.45,296.85 484.47,297.3 C488.48,297.75 492.5,298.21 496.51,298.68 C500.53,299.14 504.54,299.62 508.56,300.1 C512.57,300.58 516.59,301.07 520.6,301.56 C524.62,302.06 528.63,302.56 532.65,303.07 C536.67,303.58 540.68,304.1 544.7,304.63 C548.71,305.15 552.73,305.69 556.74,306.23 C560.76,306.77 564.77,307.32 568.79,307.87 C572.8,308.43 576.82,308.99 580.83,309.56 C584.85,310.13 588.86,310.7 592.88,311.29 C596.9,311.87 600.91,312.46 604.93,313.05 C608.94,313.65 612.96,314.25 616.97,314.86 C620.99,315.47 625,316.09 629.02,316.71 C633.03,317.33 637.05,317.95 641.06,318.59 C645.08,319.22 649.09,319.86 653.11,320.5 C657.13,321.14 661.14,321.79 665.16,322.44 C669.17,323.09 673.19,323.75 677.2,324.41 C681.22,325.08 685.23,325.74 689.25,326.41 C693.26,327.09 697.28,327.76 701.29,328.44 C705.31,329.12 709.32,329.8 713.34,330.48 C717.36,331.17 721.37,331.85 725.39,332.55 C729.4,333.24 733.42,333.93 737.43,334.62 C741.45,335.32 745.46,336.01 749.48,336.71 C753.49,337.41 757.51,338.11 761.52,338.81 C765.54,339.51 769.55,340.21 773.57,340.91 C777.59,341.61 781.6,342.32 785.62,343.02 C789.63,343.72 793.65,344.42 797.66,345.12 C801.68,345.82 805.69,346.52 809.71,347.21 C813.72,347.91 817.74,348.6 821.75,349.29 C825.77,349.99 829.78,350.68 833.8,351.36"/>
<path d="M48.3,285.36 C52.29,285.61 56.28,285.86 60.27,286.13 C64.26,286.39 68.24,286.66 72.23,286.94 C76.22,287.22 80.21,287.5 84.2,287.79 C88.19,288.09 92.18,288.39 96.17,288.69 C100.16,289 104.14,289.32 108.13,289.64 C112.12,289.96 116.11,290.29 120.1,290.63 C124.09,290.97 128.08,291.31 132.07,291.67 C136.06,292.02 140.04,292.38 144.03,292.75 C148.02,293.12 152.01,293.5 156,293.89 C159.99,294.27 163.98,294.67 167.97,295.07 C171.96,295.47 175.94,295.88 179.93,296.3 C183.92,296.72 187.91,297.14 191.9,297.58 C195.89,298.01 199.88,298.46 203.87,298.91 C207.86,299.36 211.84,299.82 215.83,300.29 C219.82,300.76 223.81,301.24 227.8,301.73 C231.79,302.22 235.78,302.71 239.77,303.22 C243.76,303.72 247.74,304.24 251.73,304.76 C255.72,305.28 259.71,305.81 263.7,306.35 C267.69,306.89 271.68,307.45 275.67,308 C279.66,308.56 283.64,309.13 287.63,309.71 C291.62,310.29 295.61,310.88 299.6,311.47 C303.59,312.07 307.58,312.68 311.57,313.29 C315.56,313.91 319.54,314.53 323.53,315.17 C327.52,315.8 331.51,316.45 335.5,317.1 C339.49,317.76 343.48,318.42 347.47,319.1 C351.46,319.77 355.44,320.45 359.43,321.15 C363.42,321.84 367.41,322.55 371.4,323.26 C375.39,323.98 379.38,324.7 383.37,325.44 C387.36,326.17 391.34,326.92 395.33,327.67 C399.32,328.43 403.31,329.2 407.3,329.97"/>
<path d="M48.3,313.48 C52.29,313.78 56.28,314.09 60.27,314.4 C64.26,314.7 68.24,315.01 72.23,315.33 C76.22,315.64 80.21,315.96 84.2,316.27 C88.19,316.59 92.18,316.92 96.17,317.24 C100.16,317.57 104.14,317.9 108.13,318.23 C112.12,318.57 116.11,318.9 120.1,319.25 C124.09,319.59 128.08,319.94 132.07,320.3 C136.06,320.65 140.04,321.01 144.03,321.38 C148.02,321.75 152.01,322.12 156,322.5 C159.99,322.88 163.98,323.27 167.97,323.66 C171.96,324.06 175.94,324.46 179.93,324.87 C183.92,325.28 187.91,325.7 191.9,326.13 C195.89,326.56 199.88,326.99 203.87,327.44 C207.86,327.89 211.84,328.34 215.83,328.81 C219.82,329.28 223.81,329.75 227.8,330.24 C231.79,330.73 235.78,331.22 239.77,331.73 C243.76,332.24 247.74,332.76 251.73,333.29 C255.72,333.83 259.71,334.37 263.7,334.93 C267.69,335.48 271.68,336.05 275.67,336.64 C279.66,337.22 283.64,337.82 287.63,338.43 C291.62,339.04 295.61,339.66 299.6,340.3 C303.59,340.94 307.58,341.59 311.57,342.26 C315.56,342.93 319.54,343.61 323.53,344.31 C327.52,345.01 331.51,345.72 335.5,346.45 C339.49,347.18 343.48,347.93 347.47,348.69 C351.46,349.46 355.44,350.24 359.43,351.04 C363.42,351.84 367.41,352.65 371.4,353.49 C375.39,354.32 379.38,355.18 383.37,356.05 C387.36,356.92 391.34,357.81 395.33,358.72 C399.32,359.63 403.31,360.56 407.3,361.51"/>
</g>
<g>
<rect x="173.6" y="100.2" width="98.5" height="16.8" fill="#fff"/>
<rect x="334.4" y="117.8" width="90.9" height="17.1" fill="#fff"/>
<rect x="101.2" y="151.7" width="97.2" height="16.7" fill="#fff"/>
<rect x="271" y="163.4" width="97.4" height="16.4" fill="#fff"/>
<rect x="582.9" y="139.1" width="97.8" height="16.3" fill="#fff"/>
<rect x="582.9" y="157.9" width="97.8" height="14.5" fill="#fff"/>
<rect x="582.9" y="174.8" width="97.8" height="16.5" fill="#fff"/>
<rect x="693.2" y="194.7" width="98.8" height="17.1" fill="#fff"/>
<rect x="530.7" y="217.9" width="88.6" height="15.3" fill="#fff"/>
<rect x="765.6" y="260.5" width="92.7" height="18.6" fill="#fff"/>
<rect x="728.5" y="290.4" width="92.4" height="17.6" fill="#fff"/>
<rect x="732.3" y="353.8" width="100" height="16.9" fill="#fff"/>
<rect x="593" y="375.7" width="100.1" height="16.7" fill="#fff"/>
<rect x="727" y="107" width="144" height="18" fill="#fff"/>
<line x1="833.6" y1="262" x2="833.6" y2="280" stroke="#888888" stroke-width="1" shape-rendering="crispEdges"/>
</g>
<g font-size="14.5" fill="#b44c64" stroke="#b44c64" stroke-width="0.2">
<text x="177.9" y="115" textLength="90.7" lengthAdjust="spacingAndGlyphs">2GTP70/185</text>
<text x="341.4" y="131.9" textLength="81.7" lengthAdjust="spacingAndGlyphs">2GTP70/150</text>
<text x="108.2" y="166.9" textLength="79.8" lengthAdjust="spacingAndGlyphs">GTP70/110</text>
<text x="279.3" y="177.8" textLength="81.4" lengthAdjust="spacingAndGlyphs">GTP70/090</text>
<text x="590.7" y="153.9" textLength="81" lengthAdjust="spacingAndGlyphs">GTP70/075</text>
<text x="590.7" y="170.4" textLength="81" lengthAdjust="spacingAndGlyphs">GTP70/055</text>
<text x="590.7" y="189.3" textLength="81" lengthAdjust="spacingAndGlyphs">GTP70/037</text>
<text x="698.2" y="209.8" textLength="90.4" lengthAdjust="spacingAndGlyphs">GTP120/150</text>
<text x="534.3" y="230.7" textLength="81.7" lengthAdjust="spacingAndGlyphs">GTP120/185</text>
<text x="770.6" y="276.1" textLength="82.7" lengthAdjust="spacingAndGlyphs">GTP200/185</text>
<text x="734.5" y="305" textLength="81.4" lengthAdjust="spacingAndGlyphs">GTP200/150</text>
<text x="738.3" y="368.7" textLength="89" lengthAdjust="spacingAndGlyphs">GTP200/110</text>
<text x="596.3" y="391.2" textLength="90.2" lengthAdjust="spacingAndGlyphs">GTP120/110</text>
<text x="736.3" y="121.6" textLength="84" lengthAdjust="spacingAndGlyphs">n=2800r/min</text>
<text x="831" y="121.6" textLength="34" lengthAdjust="spacingAndGlyphs">50Hz</text>
</g>
<g font-size="12.5" fill="#484848" stroke="#484848" stroke-width="0.2">
<text x="22.9" y="104.3">70</text>
<text x="22.9" y="128">60</text>
<text x="22.9" y="151.8">50</text>
<text x="22.9" y="174.9">40</text>
<text x="22.9" y="204.6">35</text>
<text x="22.9" y="233.6">30</text>
<text x="22.9" y="263.4">25</text>
<text x="22.9" y="293.8">20</text>
<text x="22.9" y="323.7">15</text>
<text x="22.9" y="352.7">10</text>
<text x="22.9" y="382.9">5</text>
<text x="22.9" y="411.7">0</text>
<text x="50" y="438.2" text-anchor="middle">0</text>
<text x="173.1" y="438.2" text-anchor="middle">40</text>
<text x="291.5" y="438.2" text-anchor="middle">80</text>
<text x="413.5" y="438.2" text-anchor="middle">120</text>
<text x="533" y="438.2" text-anchor="middle">160</text>
<text x="652.5" y="438.2" text-anchor="middle">200</text>
<text x="772.8" y="438.2" text-anchor="middle">240</text>
<text x="894.1" y="438.2" text-anchor="middle">280</text>
<text x="50" y="469.4" text-anchor="middle">0</text>
<text x="171.6" y="469.4" text-anchor="middle">2.4</text>
<text x="292.8" y="469.4" text-anchor="middle">4.8</text>
<text x="412" y="469.4" text-anchor="middle">7.2</text>
<text x="532" y="469.4" text-anchor="middle">9.6</text>
<text x="651.3" y="469.4" text-anchor="middle">12</text>
<text x="779" y="469.4" text-anchor="middle">14.4</text>
<text x="898" y="469.4" text-anchor="middle">16.8</text>
<text x="924.9" y="439.2" textLength="47" lengthAdjust="spacingAndGlyphs">Q(l/min)</text>
<text x="931" y="469.4" letter-spacing="1.2">(m<tspan font-size="6" dy="-5.5">3</tspan><tspan dy="5.5">/h)</tspan></text>
</g>
</svg>
</body></html>
